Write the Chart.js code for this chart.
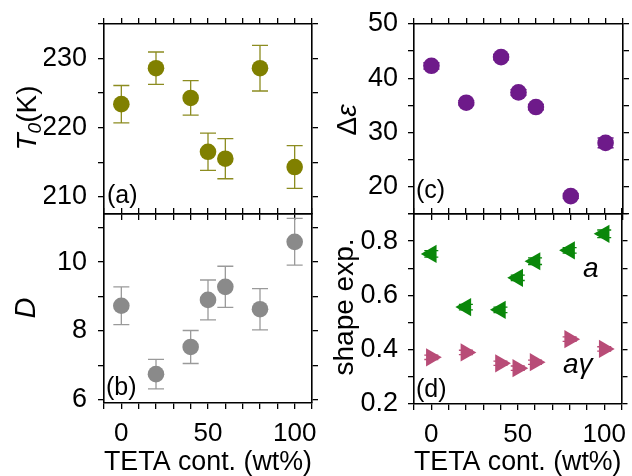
<!DOCTYPE html>
<html>
<head>
<meta charset="utf-8">
<script src="https://cdn.jsdelivr.net/npm/chart.js@4.4.0/dist/chart.umd.min.js"></script>
<style>
html, body { margin: 0; padding: 0; background: #fff; }
#wrap { position: relative; width: 632px; height: 476px; }
#wrap canvas { position: absolute; left: 0; top: 0; }
</style>
</head>
<body>
<div id="wrap">
  <canvas id="pa" width="632" height="476"></canvas>
  <canvas id="pb" width="632" height="476"></canvas>
  <canvas id="pc" width="632" height="476"></canvas>
  <canvas id="pd" width="632" height="476"></canvas>
</div>
<script>
// TETA content (wt%) shared by all panels
var tetaCont = [0, 20, 40, 50, 60, 80, 100];

// (a) T0 in K
var t0 = [223.4, 228.6, 224.3, 216.5, 215.5, 228.6, 214.3];
var t0Err = [2.7, 2.35, 2.5, 2.7, 2.9, 3.3, 3.1];
// (b) D
var dVal = [8.73, 6.74, 7.53, 8.90, 9.28, 8.63, 10.59];
var dErr = [0.55, 0.43, 0.48, 0.58, 0.6, 0.6, 0.68];
// (c) delta epsilon
var dEps = [42.3, 35.5, 43.9, 37.4, 34.7, 18.3, 28.1];
var dEpsErr = [0.6, 0.4, 0.5, 0.5, 0.5, 0.4, 0.9];
// (d) shape exponents a and a*gamma
var aVal = [0.753, 0.557, 0.547, 0.665, 0.726, 0.766, 0.827];
var aErr = [0.012, 0.01, 0.01, 0.01, 0.012, 0.01, 0.014];
var agVal = [0.372, 0.39, 0.35, 0.332, 0.354, 0.439, 0.403];
var agErr = [0.008, 0.008, 0.008, 0.008, 0.008, 0.008, 0.008];

// tick labels
var xTicks = [0, 50, 100];
var t0Ticks = [210, 220, 230];
var dTicks = [6, 8, 10];
var epsTicks = [20, 30, 40, 50];
var shapeTicks = [0.2, 0.4, 0.6, 0.8];

var FONT = '"Liberation Sans", Arial, sans-serif';

function pts(ys) {
    return tetaCont.map(function (x, i) { return { x: x, y: ys[i] }; });
}

// all tick positions (major + minor) between lo and hi
function steps(lo, hi, step) {
    var out = [];
    for (var k = Math.ceil(lo / step - 1e-9); k <= Math.floor(hi / step + 1e-9); k++) {
        out.push({ value: Math.round(k * step * 1e6) / 1e6 });
    }
    return out;
}

function isLabel(list, v) {
    for (var i = 0; i < list.length; i++) if (Math.abs(list[i] - v) < 1e-6) return true;
    return false;
}

// error bars and rich text labels
function makeExtras(o) {
    return {
        id: 'extras' + o.name,
        beforeDatasetsDraw: function (chart) {
            var ctx = chart.ctx, ys = chart.scales.y;
            ctx.save();
            chart.data.datasets.forEach(function (ds, i) {
                var errs = o.errors[i];
                var meta = chart.getDatasetMeta(i);
                ctx.strokeStyle = o.errColors[i];
                ctx.lineWidth = 1.3;
                meta.data.forEach(function (el, j) {
                    var v = ds.data[j].y, e = errs[j];
                    var yt = ys.getPixelForValue(v + e), yb = ys.getPixelForValue(v - e);
                    var cw = o.capHalf;
                    ctx.beginPath();
                    ctx.moveTo(el.x, yt); ctx.lineTo(el.x, yb);
                    ctx.moveTo(el.x - cw, yt); ctx.lineTo(el.x + cw, yt);
                    ctx.moveTo(el.x - cw, yb); ctx.lineTo(el.x + cw, yb);
                    ctx.stroke();
                });
            });
            ctx.restore();
        },
        afterDraw: function (chart) {
            var ctx = chart.ctx;
            ctx.save();
            // axis title (rotated, mixed fonts)
            ctx.fillStyle = '#000';
            var w = 0;
            o.title.forEach(function (t) { ctx.font = t.f; w += ctx.measureText(t.t).width; });
            ctx.translate(o.titleX, o.titleY);
            ctx.rotate(-Math.PI / 2);
            ctx.textBaseline = 'alphabetic';
            var cx = -w / 2;
            o.title.forEach(function (t) {
                ctx.font = t.f;
                ctx.fillText(t.t, cx, 10 + (t.dy || 0));
                cx += ctx.measureText(t.t).width;
            });
            ctx.restore();

            // panel letters and series names
            ctx.save();
            ctx.fillStyle = '#000';
            o.notes.forEach(function (n) {
                ctx.font = n.f;
                ctx.fillText(n.t, n.x, n.y);
            });
            ctx.restore();
        }
    };
}

function noPad(s) {
    s.paddingTop = 0; s.paddingBottom = 0; s.paddingLeft = 0; s.paddingRight = 0;
}

// one axis: frame side + outward tick marks, labels only where asked
function axis(pos, min, max, minor, labels, size, pad, fontSize) {
    var horiz = pos === 'top' || pos === 'bottom';
    return {
        type: 'linear', position: pos, min: min, max: max,
        grid: { display: true, drawOnChartArea: false, drawTicks: true, tickLength: 6, color: '#000', lineWidth: 1.3 },
        border: { display: true, color: '#000', width: 1.6 },
        ticks: {
            autoSkip: false, maxRotation: 0, color: '#000', padding: pad,
            font: { family: FONT, size: fontSize || 12 },
            callback: function (v) { return labels && isLabel(labels, v) ? String(v) : ''; }
        },
        afterBuildTicks: function (s) { s.ticks = steps(min, max, minor); },
        afterFit: function (s) { if (horiz) s.height = size; else s.width = size; noPad(s); }
    };
}

function makePanel(id, box, datasets, yMin, yMax, yMinor, yTicks, extras, showX) {
    var bottomH = showX ? 476 - box.B : 0;
    var xb = axis('bottom', -10, 110, 10, showX ? xTicks : null, bottomH, 9, 26);
    xb.title = { display: showX, text: 'TETA cont. (wt%)', color: '#000', padding: 0,
                 font: { family: FONT, size: 27.5, lineHeight: 1.0 } };
    return new Chart(document.getElementById(id), {
        type: 'scatter',
        data: { datasets: datasets },
        options: {
            responsive: false,
            animation: false,
            devicePixelRatio: 1,
            layout: { padding: { left: box.L - 60, right: 632 - box.R, top: box.T, bottom: 476 - box.B - bottomH } },
            plugins: { legend: { display: false }, tooltip: { enabled: false } },
            scales: {
                x: xb,
                x2: axis('top', -10, 110, 10, null, 0, 0),
                y: axis('left', yMin, yMax, yMinor, yTicks, 60, box.yPad, 27),
                y2: axis('right', yMin, yMax, yMinor, null, 0, 0)
            }
        },
        plugins: [makeExtras(extras)]
    });
}

function circleSet(ys, color) {
    return { data: pts(ys), pointStyle: 'circle', pointRadius: 8.3,
             pointBackgroundColor: color, pointBorderWidth: 0, clip: false };
}
function triSet(ys, color, rot) {
    return { data: pts(ys), pointStyle: 'triangle', pointRotation: rot, pointRadius: 10.5,
             pointBackgroundColor: color, pointBorderWidth: 0, clip: false };
}

var olive = '#808000', grey = '#8a8a8a', purple = '#6e1a8a', green = '#0a870a', wine = '#b84c77';
var big = '28px ' + FONT, ital = 'italic 28px ' + FONT, lab = '25px ' + FONT;

makePanel('pa', { L: 104, R: 312, T: 24, B: 214, yPad: 11 },
    [circleSet(t0, olive)], 207.5, 235, 5, t0Ticks,
    { name: 'a', errors: [t0Err], errColors: ['#8c8c20'], capHalf: 8, titleX: 26, titleY: 118,
      title: [{ t: 'T', f: ital }, { t: '0', f: 'italic 19px ' + FONT, dy: 5 }, { t: '(K)', f: big }],
      notes: [{ t: '(a)', f: lab, x: 107, y: 203 }] }, false);

makePanel('pb', { L: 104, R: 312, T: 214, B: 403, yPad: 11 },
    [circleSet(dVal, grey)], 5.9, 11.4, 1, dTicks,
    { name: 'b', errors: [dErr], errColors: ['#9a9a9a'], capHalf: 8, titleX: 25, titleY: 308,
      title: [{ t: 'D', f: 'italic 29px ' + FONT }],
      notes: [{ t: '(b)', f: lab, x: 106, y: 395 }] }, true);

makePanel('pc', { L: 414, R: 623, T: 24, B: 214, yPad: 10 },
    [circleSet(dEps, purple)], 15, 50, 5, epsTicks,
    { name: 'c', errors: [dEpsErr], errColors: [purple], capHalf: 8, titleX: 346, titleY: 120,
      title: [{ t: '\u0394', f: big }, { t: '\u03b5', f: ital }],
      notes: [{ t: '(c)', f: lab, x: 416, y: 198 }] }, false);

makePanel('pd', { L: 414, R: 623, T: 214, B: 404, yPad: 10 },
    [triSet(aVal, green, -90), triSet(agVal, wine, 90)], 0.2, 0.9, 0.1, shapeTicks,
    { name: 'd', errors: [aErr, agErr], errColors: [green, wine], capHalf: 7, titleX: 343, titleY: 307,
      title: [{ t: 'shape exp.', f: big }],
      notes: [{ t: '(d)', f: lab, x: 416, y: 397 },
              { t: 'a', f: ital, x: 583, y: 277 },
              { t: 'a\u03b3', f: ital, x: 563, y: 373 }] }, true);
</script>
</body>
</html>
